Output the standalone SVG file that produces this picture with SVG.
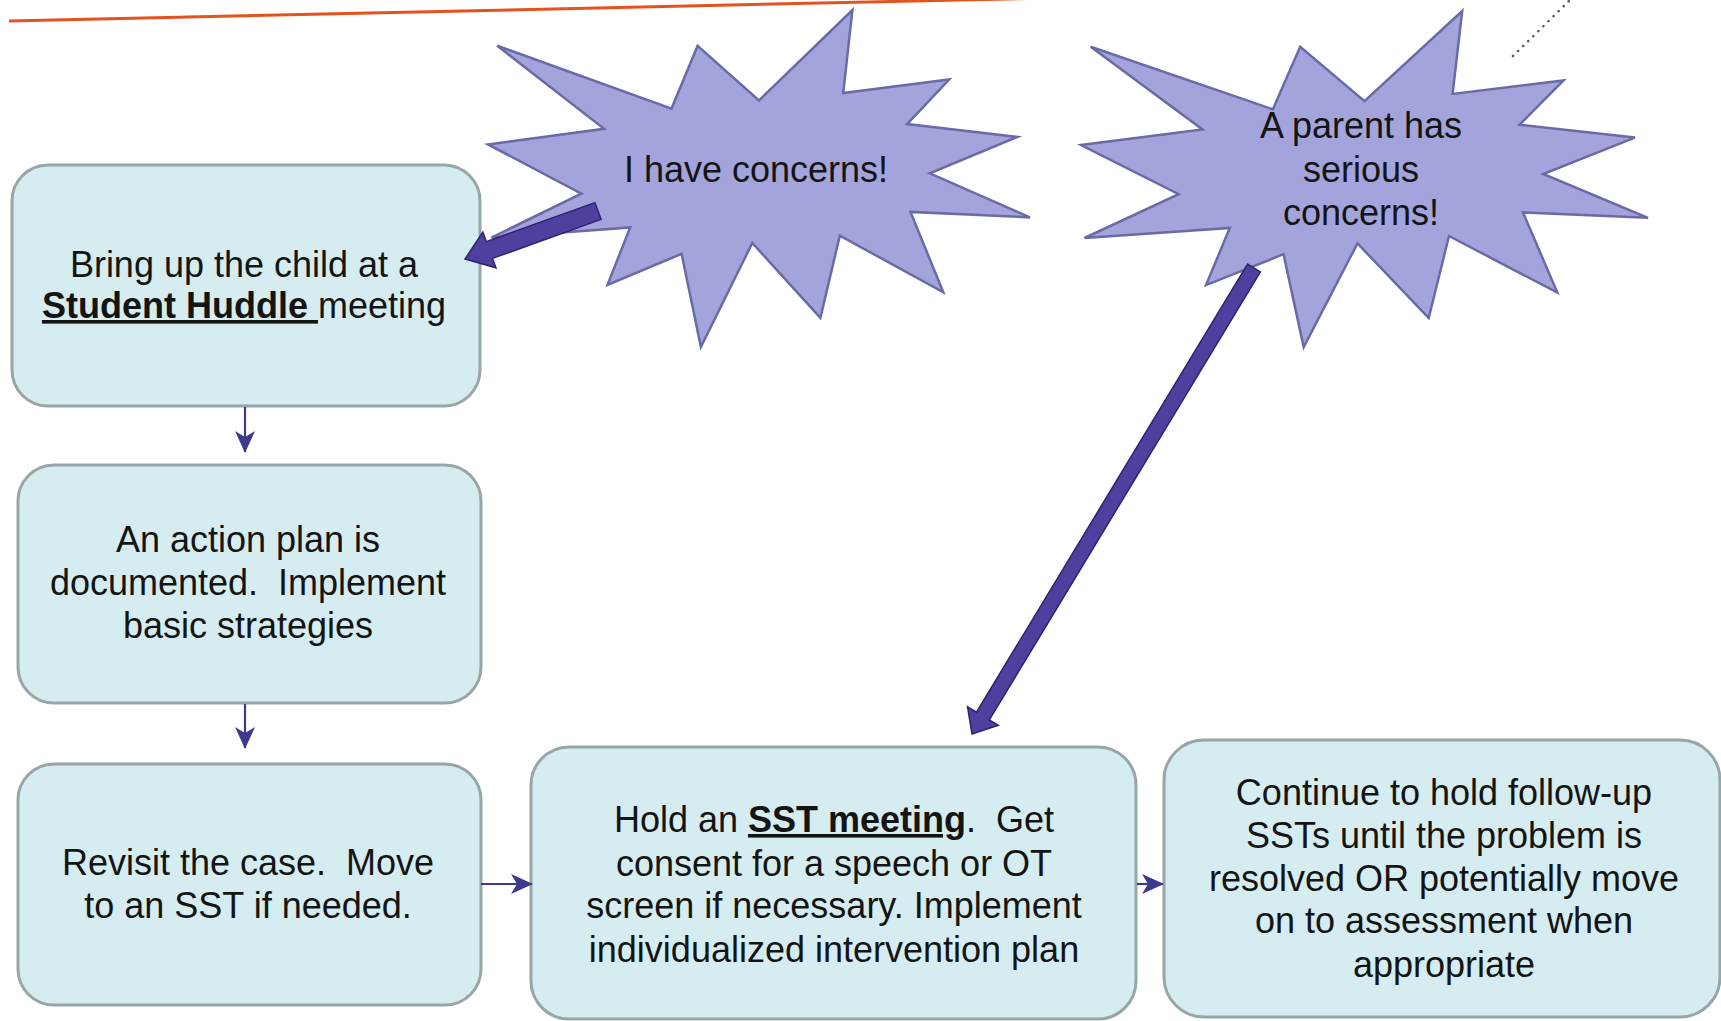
<svg xmlns="http://www.w3.org/2000/svg" width="1721" height="1021" viewBox="0 0 1721 1021">
<defs>
<style>
.box{fill:#d5ecf0;stroke:#98a6a8;stroke-width:3}
.star{fill:#a4a4dc;stroke:#6a6aa6;stroke-width:2.5;stroke-linejoin:miter}
.t{font-family:"Liberation Sans",Arial,sans-serif;font-size:36px;fill:#141414;text-anchor:middle}
.b{font-weight:bold}
.u{text-decoration:underline}
.thin{stroke:#3b3a8c;stroke-width:2.2;fill:none}
.block{fill:#4f3f9e;stroke:#2d2470;stroke-width:1.5;stroke-linejoin:miter}
</style>
<marker id="ah" markerUnits="userSpaceOnUse" markerWidth="22" markerHeight="20" refX="21" refY="10" orient="auto" viewBox="0 0 22 20">
<path d="M0,0 L22,10 L0,20 L6,10 z" fill="#3b3a8c"/>
</marker>
</defs>
<rect width="1721" height="1021" fill="#ffffff"/>
<line x1="9" y1="21" x2="1141" y2="-4" stroke="#e4521f" stroke-width="3"/>
<line x1="1513" y1="56" x2="1570" y2="0" stroke="#555555" stroke-width="2.5" stroke-dasharray="0.1 7" stroke-linecap="round"/>

<g id="box1">
<rect class="box" x="12" y="165" width="468" height="241" rx="36"/>
<text class="t" x="244" y="277">Bring up the child at a</text>
<text class="t" x="244" y="318"><tspan class="b u">Student Huddle </tspan>meeting</text>
</g>
<g id="box2">
<rect class="box" x="18" y="465" width="463" height="238" rx="36"/>
<text class="t" x="248" y="552">An action plan is</text>
<text class="t" x="248" y="595">documented.&#160; Implement</text>
<text class="t" x="248" y="638">basic strategies</text>
</g>
<g id="box3">
<rect class="box" x="18" y="764" width="463" height="241" rx="36"/>
<text class="t" x="248" y="875">Revisit the case.&#160; Move</text>
<text class="t" x="248" y="918">to an SST if needed.</text>
</g>
<g id="box4">
<rect class="box" x="531" y="747" width="605" height="272" rx="38"/>
<text class="t" x="834" y="832">Hold an <tspan class="b u">SST meeting</tspan>.&#160; Get</text>
<text class="t" x="834" y="876">consent for a speech or OT</text>
<text class="t" x="834" y="918">screen if necessary. Implement</text>
<text class="t" x="834" y="962">individualized intervention plan</text>
</g>
<g id="box5">
<rect class="box" x="1164" y="740" width="556" height="277" rx="40"/>
<text class="t" x="1444" y="805">Continue to hold follow-up</text>
<text class="t" x="1444" y="848">SSTs until the problem is</text>
<text class="t" x="1444" y="891">resolved OR potentially move</text>
<text class="t" x="1444" y="933">on to assessment when</text>
<text class="t" x="1444" y="977">appropriate</text>
</g>
<g id="star1">
<polygon class="star" points="759.0,100.5 852.4,10 843.2,93.1 949.2,79.5 907.1,124.1 1017.4,137.0 929.8,173.4 1030.0,217.4 910.5,211.9 943.3,292.3 839.8,235.6 820.4,317.9 752.3,243.0 700.9,347 681.6,253.8 607.5,284.9 630.2,227.4 491.4,237.6 581.4,193.7 488,144.4 604.1,128.8 497.3,45.8 671.5,108.6 697.6,45.8"/>
<text class="t" x="756" y="182">I have concerns!</text>
</g>
<g id="star2">
<polygon class="star" points="1364.5,101.2 1462.2,11 1452.6,93.9 1563.5,80.4 1519.4,124.8 1634.8,137.6 1543.2,174.0 1648,217.8 1523.0,212.4 1557.3,292.6 1449.0,236.0 1428.7,318.1 1357.5,243.4 1303.7,347 1283.5,254.2 1206.0,285.1 1229.8,227.9 1084.5,238.0 1178.7,194.2 1081,145.0 1202.5,129.5 1090.7,46.7 1272.9,109.3 1300.2,46.7"/>
<text class="t" x="1361" y="138">A parent has</text>
<text class="t" x="1361" y="182">serious</text>
<text class="t" x="1361" y="225">concerns!</text>
</g>
<g id="connectors">
<line class="thin" x1="245" y1="407" x2="245" y2="452" marker-end="url(#ah)"/>
<line class="thin" x1="245" y1="704" x2="245" y2="748" marker-end="url(#ah)"/>
<line class="thin" x1="481" y1="884" x2="532" y2="884" marker-end="url(#ah)"/>
<line class="thin" x1="1137" y1="884" x2="1163" y2="884" marker-end="url(#ah)"/>
<polygon class="block" points="601.1,219.4 492.5,258.4 496.0,267.8 465,259 482.8,232.2 486.3,241.6 594.9,202.6"/>
<polygon class="block" points="1260.4,271.9 989.3,719.9 998.3,725.3 972,734 967.5,706.7 976.5,712.1 1247.6,264.1"/>
</g>
</svg>
